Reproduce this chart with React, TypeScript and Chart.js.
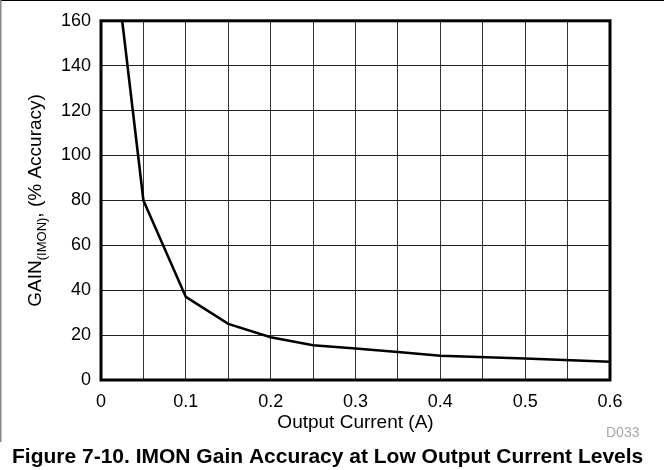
import React, { useEffect, useRef } from "react";
import { Chart, registerables } from "chart.js";

Chart.register(...registerables);

const currents = [0.025, 0.05, 0.1, 0.15, 0.2, 0.25, 0.3, 0.35, 0.4, 0.5, 0.6];
const gains = [160, 80, 37, 25, 19, 15.5, 14, 12.5, 10.8, 9.6, 8.1];

const xTickLabels = ["0", "0.1", "0.2", "0.3", "0.4", "0.5", "0.6"];
const xAxisTitle = "Output Current (A)";
const yTitleMain = "GAIN";
const yTitleSub = "(IMON)";
const yTitleRest = ", (% Accuracy)";
const figureTitle = "Figure 7-10. IMON Gain Accuracy at Low Output Current Levels";
const figureCode = "D033";

const FONT = "'Liberation Sans', Arial, sans-serif";

const decorPlugin = {
  id: "decor",
  beforeDraw(chart: any) {
    const ctx = chart.ctx;
    ctx.save();
    ctx.fillStyle = "#ffffff";
    ctx.fillRect(0, 0, chart.width, chart.height);
    ctx.restore();
  },
  afterDatasetsDraw(chart: any) {
    const ctx = chart.ctx;
    const a = chart.chartArea;
    ctx.save();
    ctx.strokeStyle = "#000000";
    ctx.lineWidth = 3;
    ctx.strokeRect(a.left, a.top, a.right - a.left, a.bottom - a.top);
    ctx.restore();
  },
  afterDraw(chart: any) {
    const ctx = chart.ctx;
    const a = chart.chartArea;
    ctx.save();
    // outer frame
    ctx.fillStyle = "#000000";
    ctx.fillRect(0, 0, chart.width, 1);
    ctx.fillStyle = "#888888";
    ctx.fillRect(0, 0, 1.5, 442);

    // y axis title with subscript
    ctx.fillStyle = "#000000";
    const big = `19px ${FONT}`;
    const small = `13px ${FONT}`;
    ctx.font = big;
    const w1 = ctx.measureText(yTitleMain).width;
    const w3 = ctx.measureText(yTitleRest).width;
    ctx.font = small;
    const w2 = ctx.measureText(yTitleSub).width;
    const total = w1 + w2 + w3;
    ctx.translate(36, (a.top + a.bottom) / 2);
    ctx.rotate(-Math.PI / 2);
    ctx.textBaseline = "middle";
    ctx.textAlign = "left";
    let x = -total / 2;
    ctx.font = big;
    ctx.fillText(yTitleMain, x, 0);
    x += w1;
    ctx.font = small;
    ctx.fillText(yTitleSub, x, 6);
    x += w2;
    ctx.font = big;
    ctx.fillText(yTitleRest, x, 0);
    ctx.restore();

    ctx.save();
    ctx.textBaseline = "middle";
    ctx.textAlign = "center";
    ctx.fillStyle = "#000000";
    ctx.font = `19px ${FONT}`;
    ctx.fillText(xAxisTitle, (a.left + a.right) / 2, 423);
    ctx.fillStyle = "#a8a8a8";
    ctx.font = `14px ${FONT}`;
    ctx.textAlign = "left";
    ctx.fillText(figureCode, 606, 433);
    ctx.fillStyle = "#000000";
    ctx.font = `bold 21px ${FONT}`;
    ctx.textAlign = "left";
    ctx.fillText(figureTitle, 12, 457);
    ctx.restore();
  },
};

export default function App() {
  const ref = useRef<HTMLCanvasElement | null>(null);
  useEffect(() => {
    if (!ref.current) return;
    const chart = new Chart(ref.current, {
      type: "line",
      data: {
        datasets: [
          {
            data: currents.map((c, i) => ({ x: c, y: gains[i] })),
            borderColor: "#000000",
            borderWidth: 2.6,
            pointRadius: 0,
            tension: 0,
            fill: false,
          },
        ],
      },
      options: {
        responsive: false,
        animation: false,
        devicePixelRatio: 1,
        layout: { padding: { left: 0, top: 19, right: 54, bottom: 60 } },
        plugins: { legend: { display: false }, tooltip: { enabled: false }, title: { display: false } },
        scales: {
          x: {
            type: "linear",
            min: 0,
            max: 0.6,
            ticks: {
              stepSize: 0.05,
              autoSkip: false,
              maxRotation: 0,
              padding: 11,
              color: "#000000",
              font: { family: FONT, size: 18 },
              callback: (v: any, i: number) => (i % 2 === 0 ? xTickLabels[i / 2] : ""),
            },
            grid: { color: "#333333", lineWidth: 1, drawTicks: false },
            border: { display: false },
            afterFit: (s: any) => {
              s.height = 30;
            },
          },
          y: {
            min: 0,
            max: 160,
            ticks: {
              stepSize: 20,
              padding: 10,
              color: "#000000",
              font: { family: FONT, size: 18 },
            },
            grid: { color: "#222222", lineWidth: 1, drawTicks: false },
            border: { display: false },
            afterFit: (s: any) => {
              s.width = 101;
            },
          },
        },
      },
      plugins: [decorPlugin],
    } as any);
    return () => chart.destroy();
  }, []);
  return (
    <div style={{ position: "fixed", left: 0, top: 0, width: 664, height: 470, background: "#fff" }}>
      <canvas ref={ref} width={664} height={470} style={{ display: "block" }} />
    </div>
  );
}
